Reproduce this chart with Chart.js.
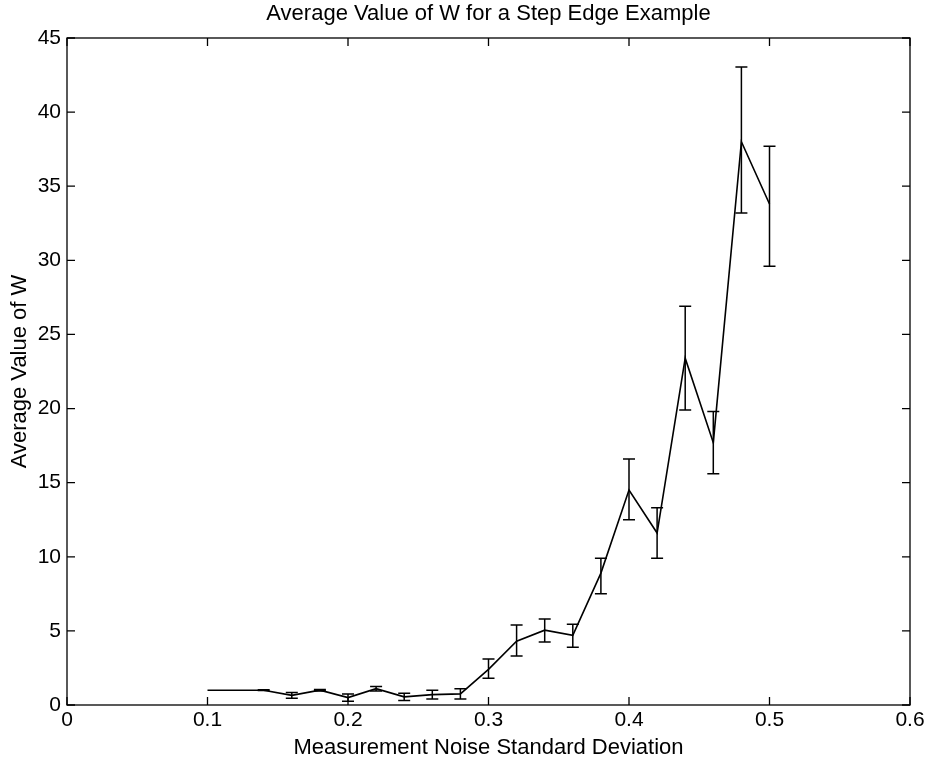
<!DOCTYPE html>
<html><head><meta charset="utf-8">
<script src="https://cdn.jsdelivr.net/npm/chart.js@4/dist/chart.umd.min.js"></script>
<style>html,body{margin:0;padding:0;background:#fff}#wrap{width:933px;height:761px}</style>
</head><body><div id="wrap"><canvas id="c" width="933" height="761"></canvas></div>
<script>
const noiseStd = [0.10,0.12,0.14,0.16,0.18,0.20,0.22,0.24,0.26,0.28,0.30,0.32,0.34,0.36,0.38,0.40,0.42,0.44,0.46,0.48,0.50];
const avgW     = [1.0,1.0,1.0,0.65,1.0,0.5,1.1,0.55,0.7,0.75,2.4,4.3,5.05,4.7,8.9,14.5,11.6,23.4,17.7,38.0,33.8];
const errLow   = [1.0,1.0,0.97,0.45,0.95,0.25,0.95,0.3,0.4,0.4,1.8,3.3,4.25,3.9,7.5,12.5,9.9,19.9,15.6,33.2,29.6];
const errHigh  = [1.0,1.0,1.03,0.85,1.05,0.75,1.25,0.8,1.0,1.1,3.1,5.4,5.8,5.45,9.9,16.6,13.3,26.9,19.8,43.05,37.7];
const xTicks = [0,0.1,0.2,0.3,0.4,0.5,0.6];
const yTicks = [0,5,10,15,20,25,30,35,40,45];

const FONT = "'Liberation Sans', Arial, Helvetica, sans-serif";

const errorBars = {
  id:'errorBars',
  afterDatasetsDraw(chart){
    const {ctx, scales:{x,y}} = chart;
    ctx.save();
    ctx.strokeStyle='#000'; ctx.lineWidth=1.5;
    for(let i=0;i<noiseStd.length;i++){
      if(errHigh[i]-errLow[i] <= 0) continue;
      const px=x.getPixelForValue(noiseStd[i]);
      const lo=y.getPixelForValue(errLow[i]), hi=y.getPixelForValue(errHigh[i]);
      const cw=6;
      ctx.beginPath();
      ctx.moveTo(px,lo); ctx.lineTo(px,hi);
      ctx.moveTo(px-cw,lo); ctx.lineTo(px+cw,lo);
      ctx.moveTo(px-cw,hi); ctx.lineTo(px+cw,hi);
      ctx.stroke();
    }
    ctx.restore();
  }
};

const boxTicks = {
  id:'boxTicks',
  afterDraw(chart){
    const {ctx, chartArea:a, scales:{x,y}} = chart;
    ctx.save();
    ctx.strokeStyle='#000'; ctx.lineWidth=1.3;
    ctx.strokeRect(a.left,a.top,a.right-a.left,a.bottom-a.top);
    const L=8;
    ctx.beginPath();
    xTicks.forEach(v=>{const p=x.getPixelForValue(v);
      ctx.moveTo(p,a.bottom); ctx.lineTo(p,a.bottom-L);
      ctx.moveTo(p,a.top); ctx.lineTo(p,a.top+L);});
    yTicks.forEach(v=>{const p=y.getPixelForValue(v);
      ctx.moveTo(a.left,p); ctx.lineTo(a.left+L,p);
      ctx.moveTo(a.right,p); ctx.lineTo(a.right-L,p);});
    ctx.stroke();
    ctx.restore();
  }
};

new Chart(document.getElementById('c'),{
  type:'line',
  data:{datasets:[{
    data: noiseStd.map((v,i)=>({x:v,y:avgW[i]})),
    borderColor:'#000', borderWidth:1.6, pointRadius:0, tension:0, fill:false
  }]},
  options:{
    responsive:false, animation:false,
    layout:{padding:{left:0,right:23,top:0,bottom:0}},
    plugins:{
      legend:{display:false}, tooltip:{enabled:false},
      title:{display:true,fullSize:false,text:'Average Value of W for a Step Edge Example',
        color:'#000',font:{family:FONT,size:22,weight:'normal'},padding:{top:1,bottom:10.6}}
    },
    scales:{
      x:{type:'linear',min:0,max:0.6,
        afterBuildTicks(s){s.ticks=xTicks.map(v=>({value:v}));},
        afterFit(s){s.height=56;},
        grid:{display:false,drawTicks:false},border:{display:false},
        ticks:{color:'#000',font:{family:FONT,size:21},padding:3,maxRotation:0,
          callback:v=>String(v)},
        title:{display:true,text:'Measurement Noise Standard Deviation',color:'#000',
          font:{family:FONT,size:22},padding:{top:0,bottom:0}}
      },
      y:{type:'linear',min:0,max:45,
        afterBuildTicks(s){s.ticks=yTicks.map(v=>({value:v}));},
        afterFit(s){s.width=67;},
        grid:{display:false,drawTicks:false},border:{display:false},
        ticks:{color:'#000',font:{family:FONT,size:21},padding:6},
        title:{display:true,text:'Average Value of W',color:'#000',
          font:{family:FONT,size:22},padding:{top:7,bottom:0}}
      }
    }
  },
  plugins:[errorBars, boxTicks]
});
</script></body></html>
